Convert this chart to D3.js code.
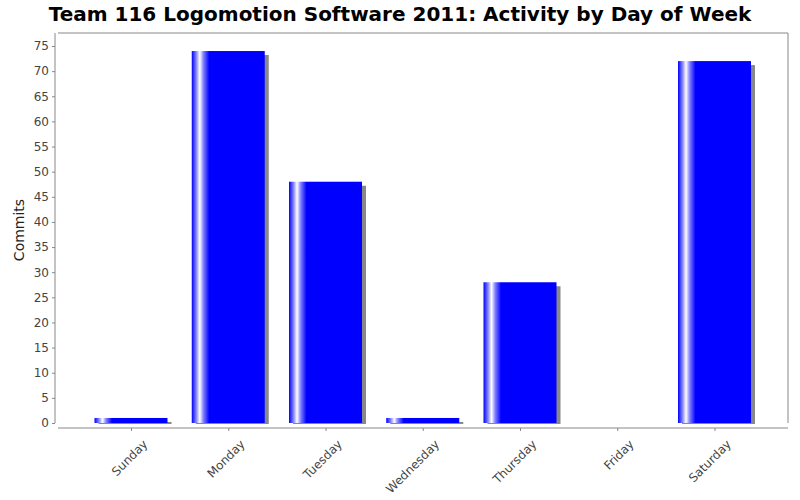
<!DOCTYPE html>
<html><head><meta charset="utf-8">
<script src="https://cdn.jsdelivr.net/npm/d3@7"></script>
<style>body{margin:0;background:#fff}text{font-family:"DejaVu Sans",sans-serif}</style>
</head><body><div id="chart"></div>
<script>
var days = ["Sunday", "Monday", "Tuesday", "Wednesday", "Thursday", "Friday", "Saturday"];
var commits = [1, 74, 48, 1, 28, 0, 72];
var yTicks = [0, 5, 10, 15, 20, 25, 30, 35, 40, 45, 50, 55, 60, 65, 70, 75];

var svg = d3.select("#chart").append("svg").attr("width", 800).attr("height", 500);

var plotL = 58, plotR = 788, plotT = 33, plotB = 428;
var x = d3.scalePoint().domain(days).range([131, 714.5]);
var y = d3.scaleLinear().domain([0, 75]).range([423, 46]);
var barW = 73;

var grad = svg.append("defs").append("linearGradient").attr("id", "bar");
[[0, "#0000ff"], [0.06, "#8080ff"], [0.11, "#ffffff"], [0.16, "#8080ff"], [0.24, "#0000ff"], [1, "#0000ff"]]
    .forEach(function(s) { grad.append("stop").attr("offset", s[0]).attr("stop-color", s[1]); });

// title
svg.append("text").attr("x", 400).attr("y", 21).attr("text-anchor", "middle")
    .style("font-size", "20px").style("font-weight", "bold").text("Team 116 Logomotion Software 2011: Activity by Day of Week");

// plot frame
svg.append("path").attr("d", `M${plotL},${plotT}H${plotR}V${plotB - 5}`).attr("fill", "none").attr("stroke", "#888");

// y axis
var yAxis = svg.append("g").attr("transform", "translate(55,0)")
    .call(d3.axisLeft(y).tickValues(yTicks).tickSize(3).tickPadding(3));
yAxis.select(".domain").attr("d", `M0,${plotT}V${plotB - 5}`);
yAxis.selectAll("path,line").attr("stroke", "#888");
yAxis.selectAll("text").style("font-size", "12px").attr("fill", "#444");

svg.append("text").attr("transform", "translate(24,230) rotate(-90)").attr("text-anchor", "middle")
    .style("font-size", "14px").attr("fill", "#222").text("Commits");

// x axis
var xAxis = svg.append("g").attr("transform", `translate(0,${plotB})`)
    .call(d3.axisBottom(x).tickSize(3).tickPadding(4));
xAxis.select(".domain").attr("d", `M${plotL},0H${plotR}`);
xAxis.selectAll("path,line").attr("stroke", "#888");
xAxis.selectAll("text").style("font-size", "12px").attr("fill", "#444")
    .attr("text-anchor", "end").attr("dy", "0.7em")
    .attr("transform", "translate(6,6) rotate(-45)");

// bars with shadows
var data = days.map(function(d, i) { return {day: d, v: commits[i]}; }).filter(function(d) { return d.v > 0; });
svg.selectAll(".shadow").data(data).enter().append("rect")
    .attr("x", d => x(d.day) - barW / 2 + 4).attr("y", d => y(d.v) + 4)
    .attr("width", barW).attr("height", d => Math.max(0, y(0) - y(d.v) - 3))
    .attr("fill", "#888");
svg.selectAll(".bar").data(data).enter().append("rect")
    .attr("x", d => x(d.day) - barW / 2).attr("y", d => y(d.v))
    .attr("width", barW).attr("height", d => y(0) - y(d.v))
    .attr("fill", "url(#bar)");
</script></body></html>
